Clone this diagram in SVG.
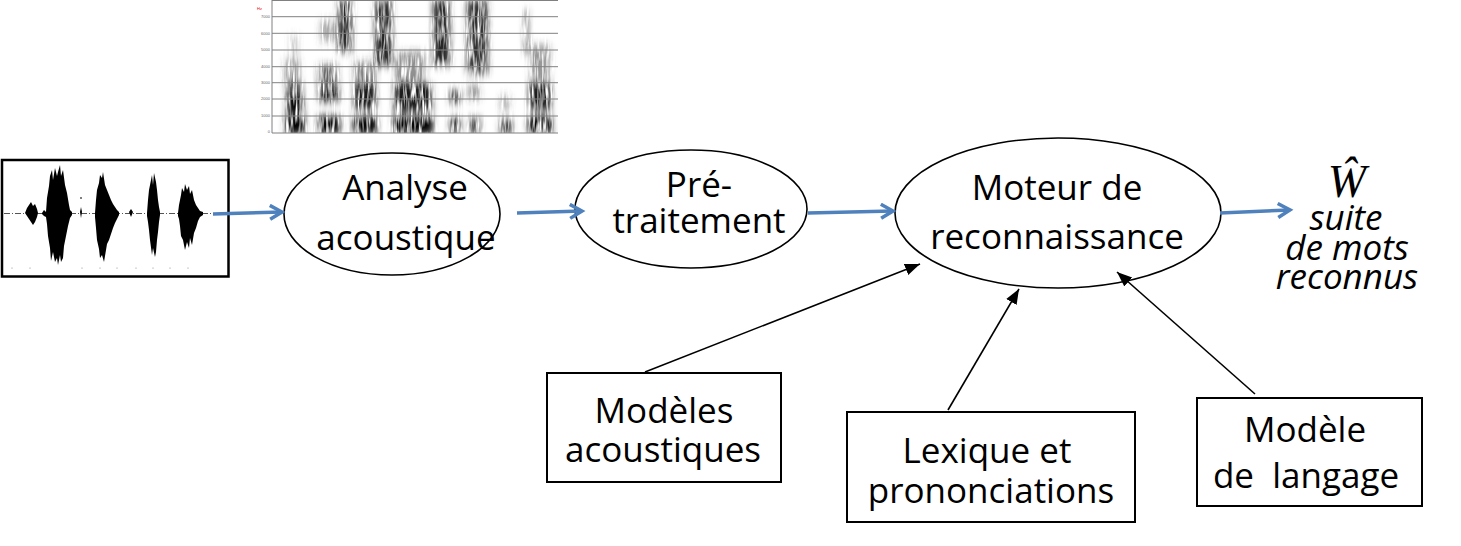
<svg xmlns="http://www.w3.org/2000/svg" width="1461" height="546" viewBox="0 0 1461 546">
<style>
.t{font-family:"Open Sans","Noto Sans","DejaVu Sans",sans-serif;font-size:35px;fill:#000;text-anchor:middle;white-space:pre}
.it{font-style:italic}
.ell{fill:#fff;stroke:#000;stroke-width:1.6}
.box{fill:#fff;stroke:#000;stroke-width:2}
.blue{stroke:#4F81BD;stroke-width:3.5;fill:none;marker-end:url(#ob)}
.blk{stroke:#000;stroke-width:1.6;fill:none;marker-end:url(#fb)}
.g{stroke:#808080;stroke-width:1}
.lbl{font-family:"Liberation Sans",sans-serif;font-size:4px;fill:#666;text-anchor:end}
.wv{fill:#000}
</style>
<defs>
<marker id="ob" markerUnits="userSpaceOnUse" markerWidth="20" markerHeight="20" refX="14" refY="8" orient="auto">
<path d="M2,1 L14,8 L2,15" fill="none" stroke="#4F81BD" stroke-width="3.5" stroke-linejoin="miter"/>
</marker>
<marker id="fb" markerUnits="userSpaceOnUse" markerWidth="18" markerHeight="14" refX="15" refY="6" orient="auto">
<path d="M0,0 L15,6 L0,12 Z" fill="#000"/>
</marker>
<filter id="sp" x="247" y="0" width="312" height="135" filterUnits="userSpaceOnUse">
<feGaussianBlur in="SourceGraphic" stdDeviation="3 4" result="b"/>
<feTurbulence type="fractalNoise" baseFrequency="0.45 0.05" numOctaves="2" seed="4" result="n"/>
<feColorMatrix in="n" type="matrix" values="0 0 0 0 0  0 0 0 0 0  0 0 0 0 0  0 0 0 2.6 -0.6" result="na"/>
<feComposite in="b" in2="na" operator="in"/>
</filter>
<clipPath id="sc"><rect x="272" y="0" width="286" height="133"/></clipPath>
</defs>

<g id="spectrogram">
<rect x="247" y="0" width="311" height="135" fill="#fff"/>
<g clip-path="url(#sc)">
<g filter="url(#sp)">
<rect x="285" y="116" width="20" height="18" fill="#000"/>
<rect x="287" y="96" width="16" height="18" fill="#000"/>
<rect x="286" y="82" width="16" height="14" fill="#222" opacity="0.8"/>
<rect x="284" y="60" width="16" height="22" fill="#444" opacity="0.5"/>
<rect x="290" y="35" width="8" height="25" fill="#555" opacity="0.35"/>
<rect x="318" y="116" width="22" height="18" fill="#000"/>
<rect x="319" y="90" width="20" height="12" fill="#000" opacity="0.9"/>
<rect x="318" y="65" width="20" height="25" fill="#222" opacity="0.7"/>
<rect x="320" y="20" width="16" height="22" fill="#444" opacity="0.45"/>
<rect x="338" y="0" width="14" height="52" fill="#000" opacity="0.85"/>
<rect x="353" y="116" width="24" height="18" fill="#000"/>
<rect x="354" y="84" width="22" height="26" fill="#000" opacity="0.9"/>
<rect x="354" y="62" width="22" height="22" fill="#333" opacity="0.6"/>
<rect x="375" y="0" width="17" height="66" fill="#000" opacity="0.85"/>
<rect x="393" y="116" width="40" height="18" fill="#000"/>
<rect x="394" y="84" width="38" height="28" fill="#000" opacity="0.9"/>
<rect x="395" y="52" width="30" height="32" fill="#333" opacity="0.55"/>
<rect x="433" y="0" width="17" height="66" fill="#000" opacity="0.85"/>
<rect x="450" y="90" width="10" height="14" fill="#000" opacity="0.85"/>
<rect x="450" y="117" width="10" height="17" fill="#000" opacity="0.9"/>
<rect x="467" y="0" width="21" height="74" fill="#000" opacity="0.8"/>
<rect x="470" y="117" width="10" height="17" fill="#000" opacity="0.8"/>
<rect x="468" y="85" width="12" height="15" fill="#333" opacity="0.5"/>
<rect x="500" y="119" width="12" height="15" fill="#000" opacity="0.8"/>
<rect x="500" y="95" width="10" height="16" fill="#444" opacity="0.4"/>
<rect x="525" y="10" width="3" height="44" fill="#000" opacity="0.8"/>
<rect x="528" y="116" width="24" height="18" fill="#000"/>
<rect x="529" y="84" width="22" height="26" fill="#000" opacity="0.9"/>
<rect x="530" y="45" width="20" height="39" fill="#333" opacity="0.5"/>
</g>
</g>
<g class="g">
<line x1="272" y1="0.5" x2="558" y2="0.5"/>
<line x1="272" y1="16.7" x2="558" y2="16.7"/>
<line x1="272" y1="33.3" x2="558" y2="33.3"/>
<line x1="272" y1="50" x2="558" y2="50"/>
<line x1="272" y1="66.7" x2="558" y2="66.7"/>
<line x1="272" y1="82.7" x2="558" y2="82.7"/>
<line x1="272" y1="99" x2="558" y2="99"/>
<line x1="272" y1="116" x2="558" y2="116"/>
<line x1="272" y1="133" x2="558" y2="133"/>
<line x1="272" y1="0" x2="272" y2="133"/>
</g>
<text x="262" y="10" font-family="Liberation Sans,sans-serif" font-size="4" fill="#e00" text-anchor="end">Hz</text>
<text class="lbl" x="270" y="18">7000</text>
<text class="lbl" x="270" y="34.5">6000</text>
<text class="lbl" x="270" y="51">5000</text>
<text class="lbl" x="270" y="68">4000</text>
<text class="lbl" x="270" y="84">3000</text>
<text class="lbl" x="270" y="100">2000</text>
<text class="lbl" x="270" y="117">1000</text>
<text class="lbl" x="270" y="133">0</text>
</g>

<g id="waveform">
<rect x="2" y="160" width="226.5" height="116.5" fill="#fff" stroke="#000" stroke-width="2.5"/>
<line x1="4" y1="213.5" x2="213" y2="213.5" stroke="#555" stroke-width="1" stroke-dasharray="6 2 1 2"/>
<polygon class="wv" points="25,213 27,208 29,205 31,202 33,206 35,204 37,209 38,213 37,217 35,222 33,225 31,222 29,219 27,216"/>
<polygon class="wv" points="42,213 44,210 46,212 47,198 49,186 50,176 52,170 53,180 55,168 57,176 58,172 60,165 61,176 63,170 65,185 67,193 69,205 70,210 72,212 72,215 70,218 68,226 66,236 64,246 63,258 61,262 60,255 58,265 57,258 55,262 53,252 51,261 50,248 48,236 47,224 46,217 44,216 42,214"/>
<polygon class="wv" points="80,212 81,207 82,212 81,218"/>
<polygon class="wv" points="95,213 96,200 97,190 99,183 100,175 102,178 103,172 105,185 107,190 109,195 111,200 113,204 115,207 117,210 119,212 119,215 117,219 115,223 113,228 111,234 109,240 107,244 105,256 104,262 102,255 100,258 99,249 97,240 96,228 95,217"/>
<polygon class="wv" points="129,212 131,209 133,212 131,217"/>
<polygon class="wv" points="147,213 148,200 149,190 151,180 152,175 153,185 154,173 156,182 157,190 158,200 159,207 160,212 160,215 159,222 158,232 157,240 156,252 155,257 153,248 152,255 150,240 149,230 148,222 147,216"/>
<polygon class="wv" points="178,213 179,205 181,195 182,188 184,192 185,184 187,190 189,186 190,194 192,190 194,200 196,205 198,208 200,211 203,212 203,215 200,217 198,221 196,228 194,233 192,245 190,238 189,248 187,242 185,250 183,240 181,236 180,226 179,219 178,216"/>
<line x1="81" y1="197" x2="81" y2="199" stroke="#000"/>
<g fill="#888">
<circle cx="12" cy="268" r="0.6"/><circle cx="30" cy="268" r="0.6"/><circle cx="82" cy="268" r="0.6"/><circle cx="100" cy="268" r="0.6"/><circle cx="117" cy="268" r="0.6"/><circle cx="136" cy="268" r="0.6"/><circle cx="153" cy="268" r="0.6"/><circle cx="170" cy="268" r="0.6"/><circle cx="188" cy="268" r="0.6"/>
</g>
</g>

<g id="analyse">
<ellipse class="ell" cx="392" cy="214" rx="108" ry="61"/>
<text class="t" x="405" y="200">Analyse</text>
<text class="t" x="406" y="250">acoustique</text>
</g>

<g id="pretraitement">
<ellipse class="ell" cx="691" cy="209" rx="116" ry="59"/>
<text class="t" x="699" y="197">Pré-</text>
<text class="t" x="699" y="233">traitement</text>
</g>

<g id="moteur">
<ellipse class="ell" cx="1058" cy="213" rx="163" ry="75"/>
<text class="t" x="1057" y="200">Moteur de</text>
<text class="t" x="1057" y="249">reconnaissance</text>
</g>

<g id="modeles-acoustiques">
<rect class="box" x="547" y="373" width="234" height="109"/>
<text class="t" x="664" y="423">Modèles</text>
<text class="t" x="663" y="462">acoustiques</text>
</g>

<g id="lexique">
<rect class="box" x="847" y="412" width="288" height="110"/>
<text class="t" x="987" y="463">Lexique et</text>
<text class="t" x="991" y="503">prononciations</text>
</g>

<g id="modele-langage">
<rect class="box" x="1197" y="398" width="225" height="108"/>
<text class="t" x="1305" y="442">Modèle</text>
<text class="t" x="1306" y="488">de  langage</text>
</g>

<g id="sortie">
<text x="1347" y="197" font-family="Liberation Serif,serif" font-style="italic" font-size="46" text-anchor="middle">Ŵ</text>
<text class="t it" x="1346" y="230"><tspan x="1346">suite</tspan><tspan x="1347" dy="30">de mots</tspan><tspan x="1347" dy="29">reconnus</tspan></text>
</g>

<g id="connectors">
<line class="blue" x1="213" y1="214" x2="282" y2="212"/>
<line class="blue" x1="517" y1="213" x2="582" y2="211"/>
<line class="blue" x1="808" y1="213" x2="893" y2="211"/>
<line class="blue" x1="1220" y1="213" x2="1290" y2="210"/>
<line class="blk" x1="645" y1="372" x2="920" y2="264"/>
<line class="blk" x1="948" y1="410" x2="1019" y2="289"/>
<line class="blk" x1="1255" y1="394" x2="1117" y2="272"/>
</g>
</svg>
